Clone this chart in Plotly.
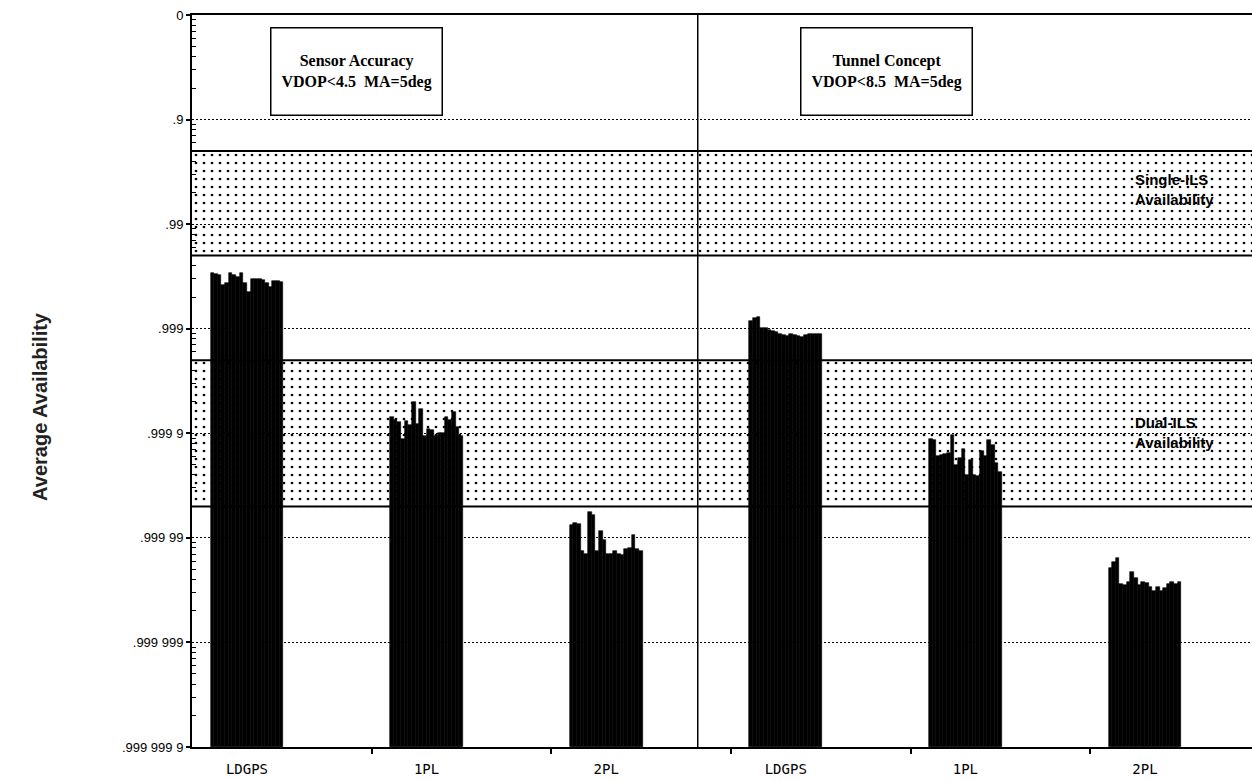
import numpy as np
import plotly.graph_objects as go

# ---------------- data ----------------
categories = ["LDGPS", "1PL", "2PL", "LDGPS", "1PL", "2PL"]
panel_titles = ["<b>Sensor Accuracy</b><br><b>VDOP&lt;4.5  MA=5deg</b>",
                "<b>Tunnel Concept</b><br><b>VDOP&lt;8.5  MA=5deg</b>"]

# availability of each sample, expressed as number of nines = -log10(1 - availability)
ldgps_sensor = [2.47, 2.48, 2.49, 2.58, 2.56, 2.47, 2.49, 2.51, 2.47, 2.56,
                2.65, 2.52, 2.52, 2.52, 2.53, 2.56, 2.60, 2.54, 2.54, 2.55]
pl1_sensor = [3.84, 3.87, 3.89, 4.05, 3.88, 3.92, 3.70, 3.91, 3.77, 4.03,
              3.96, 3.97, 4.03, 4.00, 4.00, 3.84, 3.87, 3.80, 3.94, 4.03]
pl2_sensor = [4.88, 4.86, 4.87, 5.13, 5.15, 4.75, 4.78, 5.13, 4.93, 5.02,
              5.15, 5.15, 5.13, 5.15, 5.16, 5.11, 5.10, 4.97, 5.11, 5.13]
ldgps_tunnel = [2.93, 2.90, 2.89, 2.99, 2.99, 3.01, 3.02, 3.03, 3.05, 3.06,
                3.07, 3.05, 3.06, 3.07, 3.08, 3.06, 3.05, 3.05, 3.05, 3.05]
pl1_tunnel = [4.05, 4.06, 4.22, 4.21, 4.20, 4.19, 4.02, 4.30, 4.24, 4.15,
              4.40, 4.26, 4.40, 4.41, 4.17, 4.22, 4.06, 4.11, 4.28, 4.37]
pl2_tunnel = [5.29, 5.23, 5.19, 5.44, 5.45, 5.42, 5.33, 5.38, 5.45, 5.42,
              5.43, 5.47, 5.51, 5.47, 5.51, 5.48, 5.44, 5.42, 5.44, 5.42]

tick_nines = [0, 1, 2, 3, 4, 5, 6, 7]
tick_labels = ["0", ".9", ".99", ".999", ".999 9", ".999 99", ".999 999", ".999 999 9"]

single_ils = [0.95, 0.995]     # availability band limits
dual_ils = [0.9995, 0.99998]
band_labels = ["<b>Single-ILS</b><br><b>Availability</b>", "<b>Dual-ILS</b><br><b>Availability</b>"]

# ---------------- helpers ----------------
TOP = 7.0
def nines_to_y(n):
    return TOP - np.asarray(n, dtype=float)

def avail_to_nines(a):
    return -np.log10(1.0 - np.asarray(a, dtype=float))

clusters = [ldgps_sensor, pl1_sensor, pl2_sensor, ldgps_tunnel, pl1_tunnel, pl2_tunnel]
X_MIN, X_MAX = -0.306, 5.596
cluster_width = 0.406

fig = go.Figure()

# shaded ILS bands (dotted pattern)
for band in (single_ils, dual_ils):
    n_lo, n_hi = avail_to_nines(band)
    fig.add_trace(go.Bar(
        x=[(X_MIN + X_MAX) / 2], y=[n_hi - n_lo], base=[TOP - n_hi],
        width=[X_MAX - X_MIN],
        marker=dict(color="black", line=dict(width=0),
                    pattern=dict(shape=".", size=8, solidity=0.09,
                                 fgcolor="black", fillmode="replace")),
        hoverinfo="skip", showlegend=False))

# sample bars
for ci, vals in enumerate(clusters):
    n = len(vals)
    bw = cluster_width / n
    xs = ci + (np.arange(n) - (n - 1) / 2) * bw
    fig.add_trace(go.Bar(
        x=xs, y=nines_to_y(vals), width=bw,
        marker=dict(color="black", line=dict(color="black", width=0.6)),
        showlegend=False))

# band boundary lines
for band in (single_ils, dual_ils):
    for n in avail_to_nines(band):
        fig.add_shape(type="line", xref="paper", x0=0, x1=1, yref="y",
                      y0=TOP - n, y1=TOP - n, line=dict(color="black", width=2))

# panel divider
fig.add_shape(type="line", xref="x", x0=2.51, x1=2.51, yref="y", y0=0, y1=TOP,
              line=dict(color="black", width=1.5))

# panel title boxes
for px, title in zip([0.0736, 0.5736], panel_titles):
    fig.add_annotation(text=title, xref="paper", yref="paper", x=px, y=0.984,
                       xanchor="left", yanchor="top", showarrow=False,
                       height=66,
                       font=dict(family="Liberation Serif", size=16, color="black"),
                       bgcolor="white", bordercolor="black", borderwidth=1.5,
                       borderpad=10)

# band labels
for py, lab in zip([0.761, 0.430], band_labels):
    fig.add_annotation(text=lab, xref="paper", yref="paper", x=0.8877, y=py,
                       xanchor="left", yanchor="middle", align="left", showarrow=False,
                       font=dict(family="Liberation Sans", size=15, color="black"))

# y title
fig.add_annotation(text="<b>Average Availability</b>", xref="paper", yref="paper",
                   x=-0.1434, y=0.466, textangle=-90, showarrow=False,
                   xanchor="center", yanchor="middle",
                   font=dict(family="Liberation Sans", size=20, color="#222222"))

# minor ticks on log scale
minor_y = []
for k in range(7):
    for m in range(2, 10):
        minor_y.append(TOP - ((k + 1) - np.log10(m)))

fig.update_layout(
    width=1252, height=781,
    margin=dict(l=192, r=0, t=15, b=34),
    paper_bgcolor="white", plot_bgcolor="white",
    barmode="overlay", bargap=0,
    showlegend=False,
    xaxis=dict(range=[X_MIN, X_MAX], showgrid=False, zeroline=False,
               tickmode="array", tickvals=list(range(len(categories))),
               ticktext=categories, ticks="", ticklabelstandoff=8,
               tickfont=dict(family="DejaVu Sans Mono", size=14, color="black"),
               showline=True, linecolor="black", linewidth=2, mirror=True,
               minor=dict(tickmode="array",
                          tickvals=[i + 0.695 for i in range(len(categories) - 1)],
                          ticks="outside", ticklen=5, tickwidth=1.5, tickcolor="black",
                          showgrid=False)),
    yaxis=dict(range=[0, TOP], zeroline=False,
               tickmode="array", tickvals=[TOP - t for t in tick_nines],
               ticktext=tick_labels, ticks="outside", ticklen=4, tickwidth=1.5,
               tickcolor="black",
               tickfont=dict(family="Liberation Sans", size=13, color="black"),
               showgrid=True, gridcolor="black", gridwidth=1, griddash="2px,2px",
               showline=True, linecolor="black", linewidth=2,
               minor=dict(tickmode="array", tickvals=minor_y, ticks="inside",
                          ticklen=4, tickwidth=1, tickcolor="black", showgrid=False)),
)

fig.write_html("out.html", config={"displayModeBar": False},
               post_script="document.body.style.margin='0';document.body.style.overflow='hidden';")
